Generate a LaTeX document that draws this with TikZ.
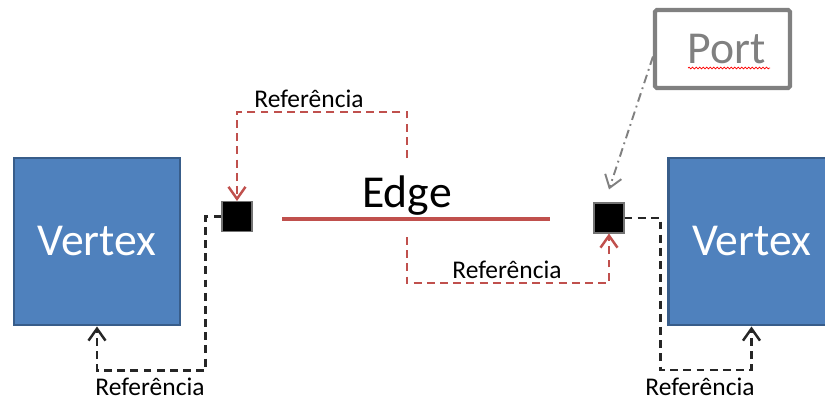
\documentclass[tikz,border=0pt]{standalone}
\usepackage{fontspec}
\setmainfont{Carlito}
\usetikzlibrary{positioning,arrows.meta,decorations.pathmorphing}

\definecolor{vertexblue}{HTML}{4F81BD}
\definecolor{vertexline}{HTML}{385D8A}
\definecolor{edgered}{HTML}{C0504D}
\definecolor{portgray}{HTML}{808080}

\tikzset{
  vertex/.style={draw=vertexline, line width=1.7pt, fill=vertexblue,
    minimum width=3.32cm, minimum height=3.34cm, text=white,
    font=\fontsize{26}{30}\selectfont},
  portsq/.style={draw=black!55, line width=0.6pt, fill=black, minimum size=0.6cm, inner sep=0pt},
  refred/.style={edgered, line width=1.4pt, dash pattern=on 4.5pt off 3pt,
    -{Straight Barb[length=2.4mm,width=3.4mm]}},
  refblack/.style={black!85, line width=1.4pt, dash pattern=on 4.5pt off 3pt,
    -{Straight Barb[length=2.4mm,width=3.4mm]}},
  reflabel/.style={font=\fontsize{14.5}{16}\selectfont}
}

\begin{document}
\begin{tikzpicture}
  \useasboundingbox (0,0) rectangle (16.5,8.04);

  % vertices and ports
  \node[vertex] (lvertex) at (1.94,3.21) {Vertex};
  \node[vertex] (rvertex) at (15.03,3.21) {Vertex};
  \node[portsq] (lport) at (4.74,3.71) {};
  \node[portsq] (rport) at (12.18,3.68) {};

  % the edge itself
  \coordinate (E1) at (5.64,3.66);
  \coordinate (E2) at (11.0,3.66);
  \coordinate (edgemid) at (8.14,3.66);
  \draw[edgered, line width=2.3pt] (E1) -- (E2);
  \node[above=0.06cm of edgemid, inner sep=0pt, font=\fontsize{26}{30}\selectfont] (edgelabel) {Edge};

  % edge -> ports
  \coordinate (reftop) at (8.14,4.88);
  \coordinate (refbot) at (8.14,3.3);
  \draw[refred] (reftop) -- ++(0,0.92) -| (lport.north);
  \draw[refred] (refbot) -- ++(0,-0.92) -| (rport.south);
  \node[reflabel] (toplabel) at (6.18,6.06) {Referência};
  \node[reflabel] (botlabel) at (10.14,2.64) {Referência};

  % ports -> vertices
  \draw[refblack] (lport.west) -- ++(-0.32,0) -- ++(0,-3.08) -| (lvertex.south);
  \draw[refblack] (rport.east) -- ++(0.72,0) -- ++(0,-3.04) -| (rvertex.south);
  \node[reflabel] (leftlabel) at (3.0,0.3) {Referência};
  \node[reflabel] (rightlabel) at (14.0,0.3) {Referência};

  % port tag
  \node[draw=portgray, line width=2.3pt, rounded corners=1pt, minimum width=2.7cm,
    minimum height=1.56cm, text=portgray, font=\fontsize{26}{30}\selectfont] (porttag) at (14.45,7.06) {\hspace{0.18cm}Port};
  \draw[red, line width=0.4pt, decorate, decoration={snake, amplitude=0.5pt, segment length=2pt}]
    (13.76,6.68) -- (15.4,6.68);
  \draw[portgray, line width=1.1pt, dash pattern=on 5pt off 2.5pt on 1pt off 2.5pt,
    -{Straight Barb[length=2.4mm,width=3.4mm]}]
    ([yshift=-0.15cm]porttag.west) -- ([yshift=0.26cm]rport.north);
\end{tikzpicture}
\end{document}
